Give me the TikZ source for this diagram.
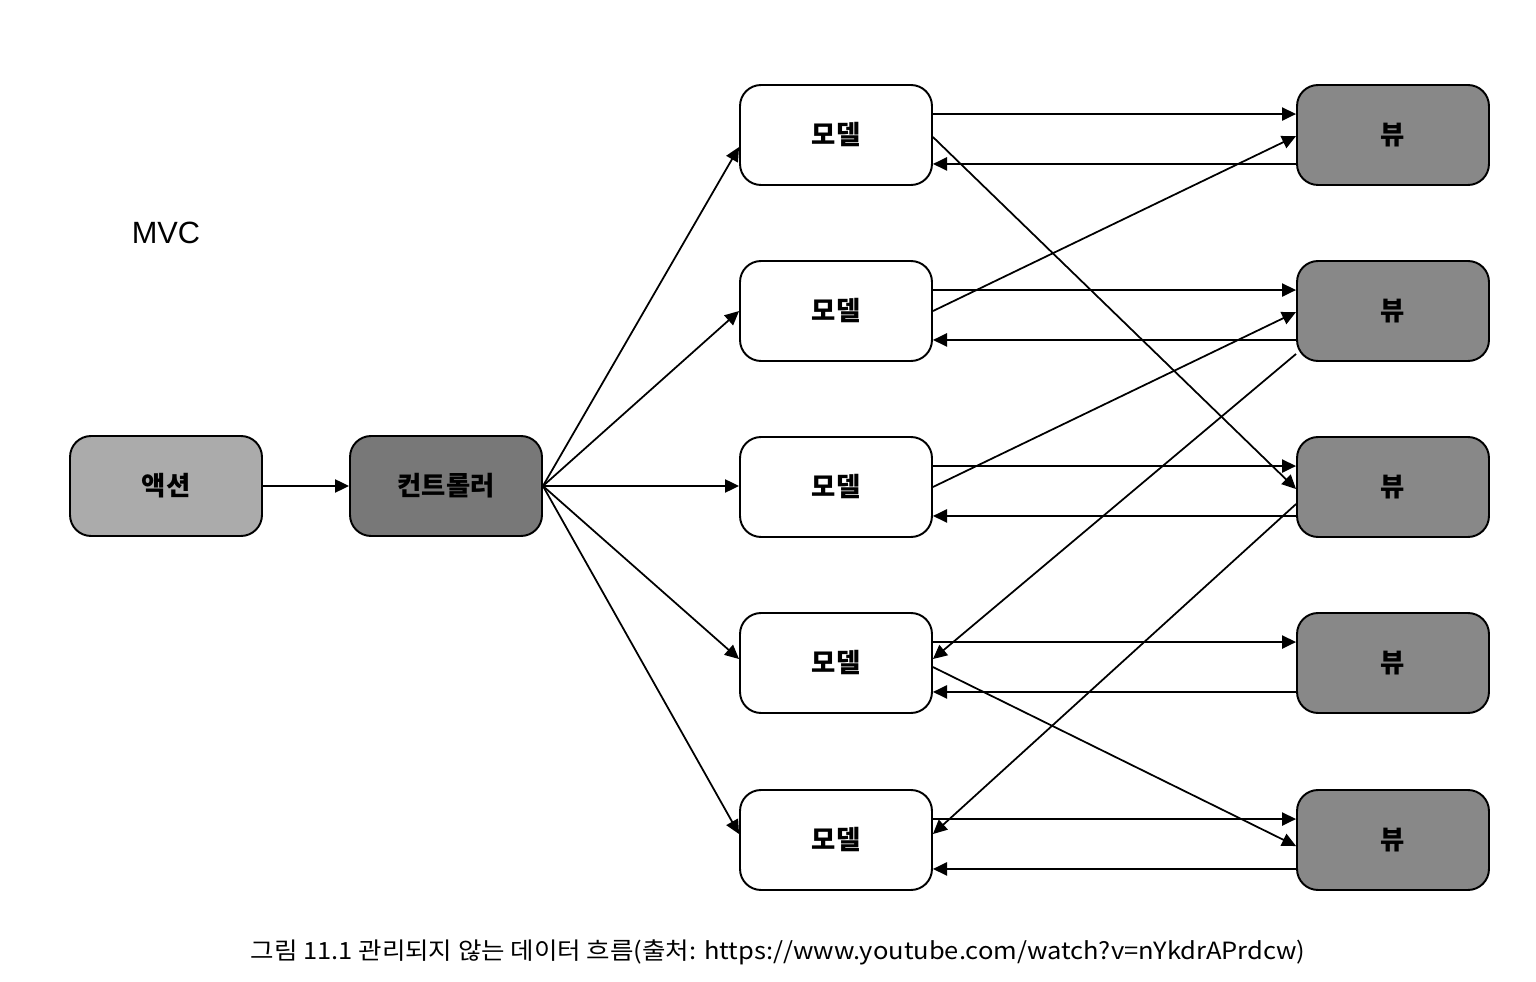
\documentclass[tikz,border=0pt]{standalone}
\usepackage{fontspec}
\usepackage{graphicx}
\usetikzlibrary{arrows.meta}
\newfontfamily\kr{Noto Sans CJK KR}
\newfontfamily\lat{Liberation Sans}
\definecolor{actgray}{HTML}{ABABAB}
\definecolor{ctlgray}{HTML}{787878}
\definecolor{viewgray}{HTML}{888888}
\tikzset{
  box/.style={draw=black, line width=1.1pt, rounded corners=0.42cm,
    minimum width=3.84cm, minimum height=2cm, inner sep=0pt,
    font=\kr\bfseries\fontsize{15}{18}\selectfont},
  actbox/.style={box, fill=actgray},
  ctlbox/.style={box, fill=ctlgray},
  modelbox/.style={box, fill=white},
  viewbox/.style={box, fill=viewgray},
  conn/.style={line width=1pt, -{Triangle[length=8pt,width=7.5pt]}},
}
\begin{document}
\begin{tikzpicture}[x=0.02cm,y=-0.02cm]
\useasboundingbox (0,0) rectangle (1536,982);
\fill[white] (0,0) rectangle (1536,982);

\node[font=\lat\fontsize{17.5}{20}\selectfont] (mvc) at (166,233) {MVC};

\node[actbox] (act) at (166,486) {액션};
\node[ctlbox] (ctl) at (446,486) {컨트롤러};

\node[modelbox] (m1) at (836,135) {모델};
\node[modelbox] (m2) at (836,311) {모델};
\node[modelbox] (m3) at (836,487) {모델};
\node[modelbox] (m4) at (836,663) {모델};
\node[modelbox] (m5) at (836,840) {모델};

\node[viewbox] (v1) at (1393,135) {뷰};
\node[viewbox] (v2) at (1393,311) {뷰};
\node[viewbox] (v3) at (1393,487) {뷰};
\node[viewbox] (v4) at (1393,663) {뷰};
\node[viewbox] (v5) at (1393,840) {뷰};

% action -> controller
\draw[conn] (act.east) -- (ctl.west);

% controller -> models
\draw[conn] (ctl.east) -- ([shift={(0,63)}]m1.north west);
\draw[conn] (ctl.east) -- ([shift={(0,51)}]m2.north west);
\draw[conn] (ctl.east) -- (ctl.east -| m3.west);
\draw[conn] (ctl.east) -- ([shift={(0,47)}]m4.north west);
\draw[conn] (ctl.east) -- ([shift={(0,45)}]m5.north west);

% model -> view (straight) and view -> model
\foreach \i in {1,...,5}{
  \draw[conn] ([shift={(0,30)}]m\i.north east) -- ([shift={(0,30)}]v\i.north west);
  \draw[conn] ([shift={(0,-22)}]v\i.south west) -- ([shift={(0,-22)}]m\i.south east);
}

% diagonals
\draw[conn] ([shift={(0,53)}]m1.north east) -- ([shift={(0,53)}]v3.north west);
\draw[conn] ([shift={(0,51)}]m2.north east) -- ([shift={(0,52)}]v1.north west);
\draw[conn] (m3.east) -- ([shift={(0,52)}]v2.north west);
\draw[conn] ([shift={(0,-8)}]v2.south west) -- ([shift={(0,47)}]m4.north east);
\draw[conn] ([shift={(0,68)}]v3.north west) -- ([shift={(0,45)}]m5.north east);
\draw[conn] ([shift={(0,55)}]m4.north east) -- ([shift={(0,57)}]v5.north west);

% caption
\node[font=\kr\fontsize{13.5}{16}\selectfont, inner sep=0pt] (cap) at (778,952)
  {\resizebox{21.1cm}{\height}{그림 11.1 관리되지 않는 데이터 흐름(출처: https://www.youtube.com/watch?v=nYkdrAPrdcw)}};
\end{tikzpicture}
\end{document}
